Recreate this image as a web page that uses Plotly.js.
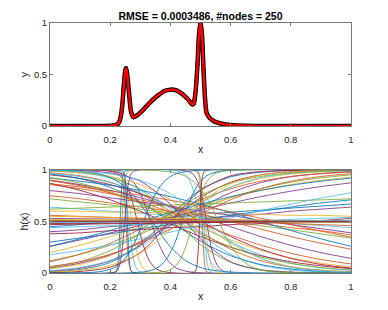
<!DOCTYPE html>
<html>
<head>
<meta charset="utf-8">
<script src="https://cdn.plot.ly/plotly-3.0.1.min.js"></script>
<style>
html,body{margin:0;padding:0;background:#fff;}
#chart{width:388px;height:310px;}
</style>
</head>
<body>
<div id="chart"></div>
<script>
// ---------- top panel: target samples ----------
const nodeX = [0, 0.05, 0.1, 0.15, 0.2, 0.21, 0.22, 0.225, 0.23, 0.235, 0.24, 0.245, 0.25, 0.2525, 0.255, 0.26, 0.265, 0.27, 0.2775, 0.285, 0.3, 0.32, 0.34, 0.36, 0.38, 0.4, 0.42, 0.44, 0.455, 0.465, 0.4725, 0.4775, 0.48, 0.485, 0.49, 0.495, 0.5, 0.505, 0.51, 0.515, 0.52, 0.525, 0.53, 0.54, 0.55, 0.57, 0.6, 0.65, 0.7, 0.8, 0.9, 1];
const nodeY = [0, 0, 0, 0, 0.003, 0.006, 0.012, 0.02, 0.04, 0.09, 0.2, 0.38, 0.54, 0.56, 0.53, 0.4, 0.24, 0.13, 0.085, 0.095, 0.13, 0.19, 0.25, 0.3, 0.34, 0.353, 0.345, 0.31, 0.27, 0.235, 0.21, 0.215, 0.25, 0.38, 0.6, 0.88, 1.0, 0.88, 0.55, 0.27, 0.13, 0.1, 0.08, 0.055, 0.04, 0.022, 0.01, 0.003, 0.001, 0, 0, 0];
const titleText = 'RMSE = 0.0003486, #nodes = 250';

// ---------- bottom panel: hidden-unit curves h(x) ----------
const gridX = [0, 0.1, 0.2, 0.3, 0.4, 0.5, 0.6, 0.7, 0.8, 0.9, 1];
const decreasingH = [
  [0.973,0.943,0.881,0.769,0.599,0.401,0.231,0.119,0.057,0.027,0.012],
  [0.989,0.971,0.924,0.818,0.622,0.378,0.182,0.076,0.029,0.011,0.004],
  [0.905,0.852,0.777,0.679,0.562,0.438,0.321,0.223,0.148,0.095,0.06],
  [0.953,0.917,0.858,0.769,0.646,0.5,0.354,0.231,0.142,0.083,0.047],
  [0.9,0.858,0.802,0.731,0.646,0.55,0.45,0.354,0.269,0.198,0.142],
  [0.961,0.917,0.832,0.69,0.5,0.31,0.168,0.083,0.039,0.018,0.008],
  [0.994,0.979,0.933,0.808,0.56,0.277,0.103,0.034,0.01,0.003,0.001],
  [0.858,0.818,0.769,0.711,0.646,0.574,0.5,0.426,0.354,0.289,0.231],
  [0.966,0.935,0.877,0.779,0.636,0.465,0.301,0.177,0.096,0.05,0.026],
  [0.989,0.973,0.937,0.858,0.711,0.5,0.289,0.142,0.063,0.027,0.011],
  [0.87,0.802,0.711,0.599,0.475,0.354,0.25,0.168,0.109,0.069,0.043],
  [0.998,0.993,0.971,0.891,0.668,0.332,0.109,0.029,0.007,0.002,0.001],
  [0.921,0.891,0.852,0.802,0.741,0.668,0.587,0.5,0.413,0.332,0.259],
  [0.926,0.872,0.789,0.673,0.53,0.382,0.254,0.157,0.093,0.053,0.03],
  [0.897,0.847,0.779,0.692,0.589,0.478,0.368,0.271,0.192,0.131,0.088],
  [0.995,0.985,0.961,0.9,0.769,0.55,0.31,0.142,0.057,0.022,0.008],
  [0.867,0.835,0.798,0.755,0.706,0.651,0.593,0.531,0.469,0.407,0.349]
];
const increasingH = [
  [0.039,0.083,0.168,0.31,0.5,0.69,0.832,0.917,0.961,0.982,0.992],
  [0.018,0.047,0.119,0.269,0.5,0.731,0.881,0.953,0.982,0.993,0.998],
  [0.05,0.096,0.177,0.301,0.465,0.636,0.779,0.877,0.935,0.966,0.983],
  [0.01,0.034,0.103,0.277,0.56,0.808,0.933,0.979,0.994,0.998,0.999],
  [0.119,0.182,0.269,0.378,0.5,0.622,0.731,0.818,0.881,0.924,0.953],
  [0.109,0.182,0.289,0.426,0.574,0.711,0.818,0.891,0.937,0.964,0.98],
  [0.022,0.053,0.121,0.254,0.455,0.673,0.835,0.926,0.968,0.987,0.995],
  [0.198,0.269,0.354,0.45,0.55,0.646,0.731,0.802,0.858,0.9,0.931],
  [0.004,0.015,0.057,0.198,0.5,0.802,0.943,0.985,0.996,0.999,1],
  [0.259,0.321,0.389,0.463,0.537,0.611,0.679,0.741,0.794,0.839,0.875],
  [0.259,0.332,0.413,0.5,0.587,0.668,0.741,0.802,0.852,0.891,0.921],
  [0.053,0.111,0.218,0.382,0.579,0.754,0.872,0.938,0.971,0.987,0.994],
  [0.063,0.109,0.182,0.289,0.426,0.574,0.711,0.818,0.891,0.937,0.964],
  [0.177,0.221,0.273,0.332,0.397,0.465,0.535,0.603,0.668,0.727,0.779],
  [0.009,0.026,0.074,0.193,0.418,0.683,0.866,0.951,0.983,0.994,0.998]
];
const flatH = [
  [0.4,0.42,0.45,0.47,0.5,0.52,0.55,0.57,0.6,0.62,0.64],
  [0.45,0.47,0.5,0.52,0.54,0.57,0.59,0.61,0.63,0.65,0.67],
  [0.72,0.69,0.66,0.62,0.58,0.54,0.5,0.46,0.42,0.38,0.34],
  [0.75,0.72,0.68,0.64,0.6,0.56,0.52,0.48,0.44,0.41,0.37],
  [0.64,0.62,0.6,0.58,0.56,0.54,0.52,0.5,0.48,0.46,0.44],
  [0.6,0.6,0.59,0.59,0.58,0.58,0.57,0.57,0.56,0.56,0.55],
  [0.38,0.39,0.41,0.42,0.44,0.45,0.47,0.48,0.5,0.51,0.53],
  [0.8,0.77,0.73,0.69,0.65,0.6,0.56,0.51,0.47,0.43,0.39],
  [0.3,0.34,0.38,0.43,0.47,0.52,0.56,0.6,0.64,0.68,0.71],
  [0.62,0.63,0.64,0.65,0.66,0.67,0.68,0.69,0.7,0.71,0.72],
  [0.56,0.55,0.54,0.53,0.52,0.51,0.5,0.49,0.48,0.47,0.46],
  [0.44,0.45,0.46,0.47,0.48,0.49,0.5,0.51,0.52,0.53,0.54],
  [0.55,0.545,0.54,0.535,0.53,0.525,0.52,0.515,0.51,0.505,0.5],
  [0.47,0.474,0.478,0.482,0.486,0.49,0.494,0.498,0.502,0.506,0.51],
  [0.53,0.527,0.524,0.521,0.518,0.515,0.512,0.509,0.506,0.503,0.5],
  [0.48,0.482,0.484,0.486,0.488,0.49,0.492,0.494,0.496,0.498,0.5],
  [0.52,0.518,0.516,0.514,0.512,0.51,0.508,0.506,0.504,0.502,0.5],
  [0.51,0.508,0.506,0.504,0.502,0.5,0.498,0.496,0.494,0.492,0.49],
  [0.495,0.496,0.497,0.498,0.499,0.5,0.501,0.502,0.503,0.504,0.505],
  [0.5,0.5,0.5,0.5,0.5,0.5,0.5,0.5,0.5,0.5,0.5],
  [0.505,0.504,0.503,0.502,0.501,0.5,0.499,0.498,0.497,0.496,0.495],
  [0.502,0.502,0.501,0.501,0.5,0.5,0.5,0.499,0.499,0.498,0.498],
  [0.498,0.498,0.499,0.499,0.5,0.5,0.5,0.501,0.501,0.502,0.502],
  [0.49,0.492,0.494,0.496,0.498,0.5,0.502,0.504,0.506,0.508,0.51],
  [0.503,0.503,0.502,0.502,0.501,0.501,0.5,0.5,0.499,0.499,0.498]
];
const steepX = [
  [0,0.218,0.223,0.2263,0.2297,0.233,0.2363,0.2397,0.243,0.248,1],
  [0,0.2185,0.2254,0.2299,0.2345,0.239,0.2435,0.2481,0.2526,0.2595,1],
  [0,0.2315,0.2384,0.2429,0.2475,0.252,0.2565,0.2611,0.2656,0.2725,1],
  [0,0.2245,0.237,0.2453,0.2537,0.262,0.2703,0.2787,0.287,0.2995,1],
  [0,0.216,0.2345,0.247,0.2595,0.272,0.2845,0.297,0.3095,0.328,1],
  [0,0.2,0.23,0.25,0.27,0.29,0.31,0.33,0.35,0.38,1],
  [0,0.2064,0.2493,0.2779,0.3064,0.335,0.3636,0.3921,0.4207,0.4636,1],
  [0,0.3114,0.3543,0.3829,0.4114,0.44,0.4686,0.4971,0.5257,0.5686,1],
  [0,0.375,0.4083,0.4306,0.4528,0.475,0.4972,0.5194,0.5417,0.575,1],
  [0,0.491,0.496,0.4993,0.5027,0.506,0.5093,0.5127,0.516,0.521,1],
  [0,0.4885,0.496,0.501,0.506,0.511,0.516,0.521,0.526,0.5335,1],
  [0,0.4814,0.4929,0.5006,0.5083,0.516,0.5237,0.5314,0.5391,0.5506,1],
  [0,0.4809,0.4863,0.4899,0.4934,0.497,0.5006,0.5041,0.5077,0.5131,1],
  [0,0.4557,0.4771,0.4914,0.5057,0.52,0.5343,0.5486,0.5629,0.5843,1],
  [0,0.09,0.1733,0.2289,0.2844,0.34,0.3956,0.4511,0.5067,0.59,1],
  [0,0.38,0.44,0.48,0.52,0.56,0.6,0.64,0.68,0.74,1],
  [0,0.16,0.21,0.2433,0.2767,0.31,0.3433,0.3767,0.41,0.46,1],
  [0,0.218,0.228,0.2347,0.2413,0.248,0.2547,0.2613,0.268,0.278,1],
  [0,0.425,0.45,0.4667,0.4833,0.5,0.5167,0.5333,0.55,0.575,1],
  [0,0.242,0.247,0.2503,0.2537,0.257,0.2603,0.2637,0.267,0.272,1]
];
const steepRising = [true,true,false,false,false,false,false,true,true,false,false,false,true,false,false,false,true,true,false,false];
const riseShape = [0,0.011,0.047,0.119,0.269,0.5,0.731,0.881,0.953,0.989,1];
const fallShape = [1,0.989,0.953,0.881,0.731,0.5,0.269,0.119,0.047,0.011,0];

const matlabColors = ['#0072BD','#D95319','#EDB120','#7E2F8E','#77AC30','#4DBEEE','#A2142F'];
const xTickVals = [0,0.2,0.4,0.6,0.8,1];
const xTickText = ['0','0.2','0.4','0.6','0.8','1'];
const yTickVals = [0,0.5,1];
const yTickText = ['0','0.5','1'];

// ---------- build traces ----------
const traces = [];
traces.push({x:nodeX, y:nodeY, xaxis:'x', yaxis:'y', mode:'lines+markers', type:'scatter',
  line:{color:'#000', width:4.5, shape:'spline', smoothing:0.8},
  marker:{color:'#000', size:4}, hoverinfo:'skip', showlegend:false});
traces.push({x:nodeX, y:nodeY, xaxis:'x', yaxis:'y', mode:'lines', type:'scatter',
  line:{color:'#ff0000', width:2.5, shape:'spline', smoothing:0.8}, hoverinfo:'skip', showlegend:false});

const curves = [];
const n = Math.max(decreasingH.length, increasingH.length, flatH.length, steepX.length);
for (let i = 0; i < n; i++) {
  if (i < steepX.length) curves.push({x: steepX[i], y: steepRising[i] ? riseShape : fallShape});
  if (i < decreasingH.length) curves.push({x: gridX, y: decreasingH[i]});
  if (i < increasingH.length) curves.push({x: gridX, y: increasingH[i]});
  if (i < flatH.length) curves.push({x: gridX, y: flatH[i]});
}
curves.forEach((c, k) => {
  traces.push({x:c.x, y:c.y, xaxis:'x2', yaxis:'y2', mode:'lines', type:'scatter', opacity:0.85,
    line:{color:matlabColors[k % matlabColors.length], width:1, shape:'spline', smoothing:0.8},
    hoverinfo:'skip', showlegend:false});
});

const fontFam = 'Liberation Sans, Arial, Helvetica, sans-serif';
const axisCommon = {
  range:[0,1], showgrid:false, zeroline:false, showline:true, mirror:'ticks',
  linecolor:'#7a7a7a', linewidth:1, ticks:'inside', ticklen:3, tickcolor:'#7a7a7a', tickwidth:1,
  tickfont:{family:fontFam, size:9.5, color:'#262626'}, tickmode:'array'
};
const titleFont = {family:fontFam, size:10.5, color:'#262626'};
const layout = {
  width:388, height:310, paper_bgcolor:'#fff', plot_bgcolor:'#fff',
  margin:{l:50, r:37, t:23, b:37},
  title:{text:'<b>' + titleText + '</b>', x:0.5, xref:'paper', y:1 - 16/310, yref:'container', yanchor:'middle',
    font:{family:fontFam, size:10.5, color:'#000'}},
  xaxis: Object.assign({}, axisCommon, {domain:[0,1], anchor:'y', tickvals:xTickVals, ticktext:xTickText,
    ticklabelstandoff:5, title:{text:'x', font:titleFont, standoff:1}}),
  yaxis: Object.assign({}, axisCommon, {domain:[0.588,1], anchor:'x', tickvals:yTickVals, ticktext:yTickText,
    title:{text:'y', font:titleFont, standoff:3}}),
  xaxis2: Object.assign({}, axisCommon, {domain:[0,1], anchor:'y2', tickvals:xTickVals, ticktext:xTickText,
    ticklabelstandoff:5, title:{text:'x', font:titleFont, standoff:1}}),
  yaxis2: Object.assign({}, axisCommon, {domain:[0,0.412], anchor:'x2', tickvals:yTickVals, ticktext:yTickText,
    title:{text:'h(x)', font:titleFont, standoff:3}}),
  showlegend:false
};
Plotly.newPlot('chart', traces, layout, {displayModeBar:false, staticPlot:true});
</script>
</body>
</html>
